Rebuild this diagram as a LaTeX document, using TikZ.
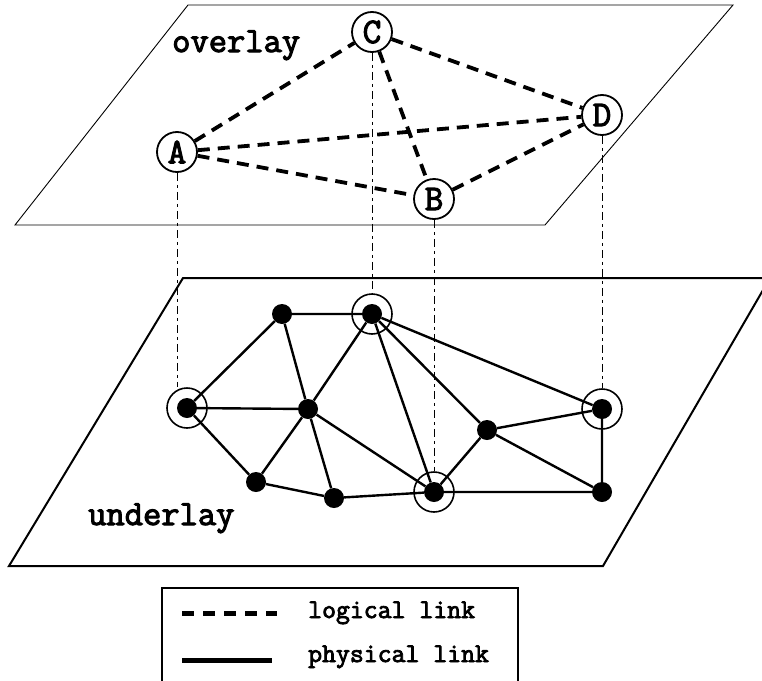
\documentclass[tikz,border=0pt]{standalone}
\usepackage{fontspec}
\setmonofont{Latin Modern Mono}[BoldFont={Latin Modern Mono},BoldFeatures={FakeBold=3}]

\begin{document}
\begin{tikzpicture}[x=1pt,y=-1pt,
	peer/.style={circle,draw,line width=1.8pt,minimum size=40pt,inner sep=0pt,
		font=\ttfamily\bfseries\fontsize{36}{36}\selectfont},
	host/.style={circle,fill,minimum size=20pt,inner sep=0pt},
	ring/.style={circle,draw,line width=1.6pt,minimum size=40pt,inner sep=0pt},
	logical/.style={line width=3.8pt,dash pattern=on 12pt off 8pt},
	physical/.style={line width=2.4pt},
	proj/.style={line width=0.8pt,dash pattern=on 8pt off 4pt on 3pt off 4pt},
	planelabel/.style={anchor=base west,inner sep=0pt,
		font=\ttfamily\bfseries\fontsize{35.5}{35.5}\selectfont},
	keylabel/.style={anchor=base west,inner sep=0pt,
		font=\ttfamily\bfseries\fontsize{27}{27}\selectfont}]
	    \useasboundingbox (0,0) rectangle (762,680);
	    \clip (0,0) rectangle (762,680);
	    % planes
	    \draw[line width=0.9pt] (188,5) -- (733,5) -- (545,225) -- (15,225) -- cycle;
	    \draw[line width=2pt] (183,278) -- (770,278) -- (603,566) -- (9,566) -- cycle;
	    \node[planelabel] (toplabel) at (172,52) {overlay};
	    \node[planelabel] (botlabel) at (88,525) {underlay};
	    % overlay
	    \node[peer] (A) at (177,152) {A};
	    \node[peer] (B) at (434,199) {B};
	    \node[peer] (C) at (372,32) {C};
	    \node[peer] (D) at (602,115) {D};
	    \draw[logical] (A) -- (C) (A) -- (D) (A) -- (B)
		      (C) -- (B) (C) -- (D) (B) -- (D);
	    % underlay
	    \node[host] (u1) at (187,408) {};
	    \node[host] (u2) at (282,314) {};
	    \node[host] (u3) at (372,314) {};
	    \node[host] (u4) at (308,409) {};
	    \node[host] (u5) at (256,482) {};
	    \node[host] (u6) at (334,498) {};
	    \node[host] (u7) at (434,492) {};
	    \node[host] (u8) at (487,430) {};
	    \node[host] (u9) at (602,409) {};
	    \node[host] (u10) at (602,492) {};
	    \node[ring] (r1) at (u1) {};
	    \node[ring] (r3) at (u3) {};
	    \node[ring] (r7) at (u7) {};
	    \node[ring] (r9) at (u9) {};
	    \draw[physical] (u1) -- (u2) (u1) -- (u4) (u1) -- (u5)
		      (u2) -- (u3) (u2) -- (u4)
		      (u3) -- (u4) (u3) -- (u7) (u3) -- (u8) (u3) -- (u9)
		      (u4) -- (u5) (u4) -- (u6) (u4) -- (u7)
		      (u5) -- (u6) (u6) -- (u7)
		      (u7) -- (u8) (u7) -- (u10)
		      (u8) -- (u9) (u8) -- (u10) (u9) -- (u10);
	    % mapping
	    \draw[proj] (A) -- (A |- r1.north)
		      (C) -- (r3)
		      (B) -- (r7)
		      (D) -- (r9);
	    % legend
	    \draw[line width=1.6pt] (162,588) rectangle (518,700);
	    \coordinate (k1a) at (182,613);
	    \coordinate (k1b) at (277,613);
	    \coordinate (k2a) at (182,660);
	    \coordinate (k2b) at (272,660);
	    \draw[line width=5pt,dash pattern=on 12pt off 9pt] (k1a) -- (k1b);
	    \draw[line width=5pt] (k2a) -- (k2b);
	    \node[keylabel] (k1) at (308,618) {logical link};
	    \node[keylabel] (k2) at (308,662) {physical link};
	\end{tikzpicture}
\end{document}
